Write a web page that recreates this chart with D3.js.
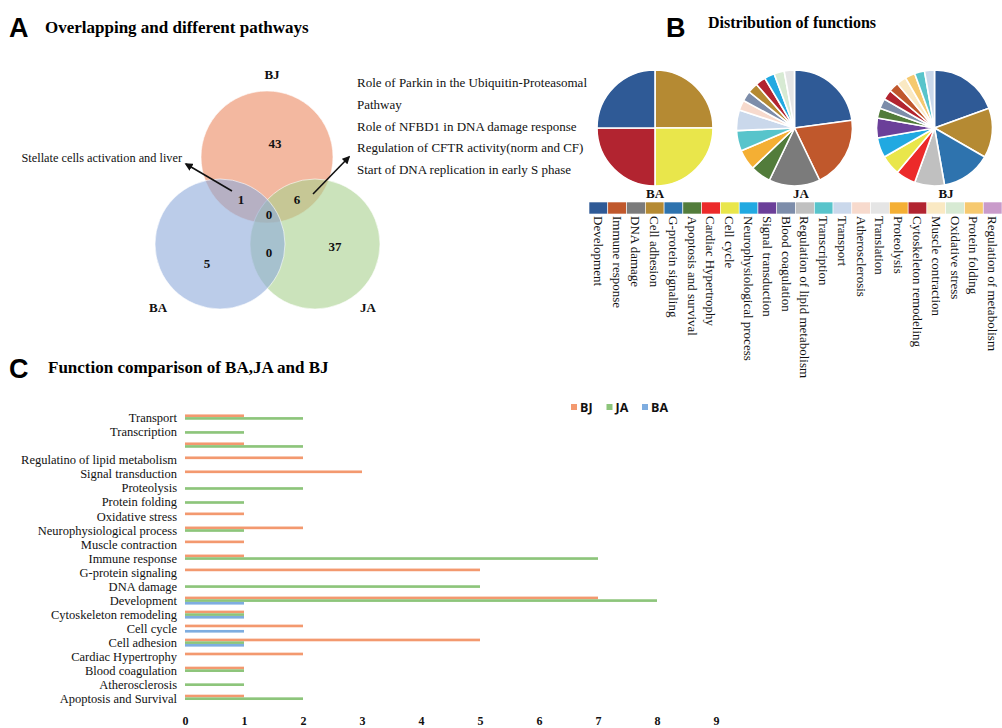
<!DOCTYPE html>
<html>
<head>
<meta charset="utf-8">
<script src="https://cdn.jsdelivr.net/npm/d3@7"></script>
<style>
  body { margin: 0; background: #fff; }
  svg { display: block; }
  text { font-family: "Liberation Serif", "Times New Roman", serif; fill: #111; }
  .letter { font-family: "Liberation Sans", Arial, sans-serif; font-weight: bold; fill: #000; }
  .title { font-weight: bold; fill: #000; }
</style>
</head>
<body>
<svg id="chart" width="1002" height="728"></svg>
<script>
// ---------- data ----------
// A: venn
const vennSets = ['BJ', 'JA', 'BA'];
const vennRegions = ['BJ', 'BA', 'JA', 'BJ&BA', 'BJ&JA', 'BJ&BA&JA', 'BA&JA'];
const vennCounts = [43, 5, 37, 1, 6, 0, 0];
const noteLeft = ['Stellate cells activation and liver'];
const noteRight = ['Role of Parkin in the Ubiquitin-Proteasomal', 'Pathway',
  'Role of NFBD1 in DNA damage response', 'Regulation of CFTR activity(norm and CF)',
  'Start of DNA replication in early S phase'];

// B: pies + legend
const functionNames = ['Development', 'Immune response', 'DNA damage', 'Cell adhesion',
  'G-protein signaling', 'Apoptosis and survival', 'Cardiac Hypertrophy', 'Cell cycle',
  'Neurophysiological process', 'Signal transduction', 'Blood coagulation',
  'Regulation of lipid metabolism', 'Transcription', 'Transport', 'Atherosclerosis',
  'Translation', 'Proteolysis', 'Cytoskeleton remodeling', 'Muscle contraction',
  'Oxidative stress', 'Protein folding', 'Regulation of metabolism'];
const functionColors = ['#2f5a96', '#c0582c', '#7b7b7b', '#b58a33', '#2e73ae', '#527c3b',
  '#ec2a2a', '#e9e64b', '#21a9e1', '#6b3f99', '#7d8daa', '#c0c0c0', '#58c4cb', '#cad8eb',
  '#f7dacd', '#e5e5e5', '#f4af34', '#b22430', '#fae9c3', '#d7ead3', '#f6c96f', '#c99bca'];

const pieNames = ['BA', 'JA', 'BJ'];
const baSlices = ['Cell adhesion', 'Cell cycle', 'Cytoskeleton remodeling', 'Development'];
const baValues = [1, 1, 1, 1];
const jaSlices = ['Development', 'Immune response', 'DNA damage', 'Apoptosis and survival',
  'Proteolysis', 'Transcription', 'Transport', 'Atherosclerosis', 'Blood coagulation',
  'Cell adhesion', 'Cytoskeleton remodeling', 'Neurophysiological process',
  'Oxidative stress', 'Translation'];
const jaValues = [8, 7, 5, 2, 2, 2, 2, 1, 1, 1, 1, 1, 1, 1];
const bjSlices = ['Development', 'Cell adhesion', 'G-protein signaling',
  'Regulation of lipid metabolism', 'Cardiac Hypertrophy', 'Cell cycle',
  'Neurophysiological process', 'Signal transduction', 'Apoptosis and survival',
  'Blood coagulation', 'Cytoskeleton remodeling', 'Immune response', 'Muscle contraction',
  'Protein folding', 'Transcription', 'Transport'];
const bjValues = [7, 5, 5, 3, 2, 2, 2, 2, 1, 1, 1, 1, 1, 1, 1, 1];

// C: grouped bars (top to bottom)
const barCategories = ['Transport', 'Transcription', 'Translation',
  'Regulatino of lipid metabolism', 'Signal transduction', 'Proteolysis', 'Protein folding',
  'Oxidative stress', 'Neurophysiological process', 'Muscle contraction', 'Immune response',
  'G-protein signaling', 'DNA damage', 'Development', 'Cytoskeleton remodeling', 'Cell cycle',
  'Cell adhesion', 'Cardiac Hypertrophy', 'Blood coagulation', 'Atherosclerosis',
  'Apoptosis and Survival'];
const hiddenTicks = ['Translation'];
const barSeries = ['BJ', 'JA', 'BA'];
const barBJ = [1, 0, 1, 2, 3, 0, 0, 1, 2, 1, 1, 5, 0, 7, 1, 2, 5, 2, 1, 0, 1];
const barJA = [2, 1, 2, 0, 0, 2, 1, 0, 1, 0, 7, 0, 5, 8, 1, 0, 1, 0, 1, 1, 2];
const barBA = [0, 0, 0, 0, 0, 0, 0, 0, 0, 0, 0, 0, 0, 1, 1, 1, 1, 0, 0, 0, 0];
const xTicks = [0, 1, 2, 3, 4, 5, 6, 7, 8, 9];

// ---------- setup ----------
const svg = d3.select('#chart');
const colorOf = d3.scaleOrdinal().domain(functionNames).range(functionColors);

function panelHead(letter, lx, ly, title, tx, ty, size) {
  svg.append('text').attr('class', 'letter').attr('x', lx).attr('y', ly)
    .attr('font-size', 27).text(letter);
  svg.append('text').attr('class', 'title').attr('x', tx).attr('y', ty)
    .attr('font-size', size).text(title);
}

// ---------- A: venn ----------
panelHead('A', 9, 37, 'Overlapping and different pathways', 45, 33, 17);

const venn = svg.append('g');
const circles = {
  BJ: { cx: 267, cy: 157, r: 66, fill: '#ee9a78', op: 0.7, lx: 272, ly: 79 },
  JA: { cx: 315, cy: 244, r: 65, fill: '#a9d18e', op: 0.6, lx: 368, ly: 312 },
  BA: { cx: 220, cy: 244, r: 65, fill: '#8eaadb', op: 0.6, lx: 158, ly: 312 }
};
venn.selectAll('circle').data(vennSets).enter().append('circle')
  .attr('cx', d => circles[d].cx).attr('cy', d => circles[d].cy).attr('r', d => circles[d].r)
  .attr('fill', d => circles[d].fill).attr('fill-opacity', d => circles[d].op)
  .attr('stroke', '#fff').attr('stroke-opacity', 0.6).attr('stroke-width', 1);
venn.selectAll('.setlab').data(vennSets).enter().append('text')
  .attr('x', d => circles[d].lx).attr('y', d => circles[d].ly)
  .attr('text-anchor', 'middle').attr('font-size', 13).attr('font-weight', 'bold')
  .text(d => d);

const regionPos = {
  'BJ': [275, 148], 'BA': [207, 268], 'JA': [335, 251], 'BJ&BA': [241, 204],
  'BJ&JA': [297, 204], 'BJ&BA&JA': [269, 219], 'BA&JA': [269, 257]
};
venn.selectAll('.count').data(vennRegions).enter().append('text')
  .attr('x', d => regionPos[d][0]).attr('y', d => regionPos[d][1])
  .attr('text-anchor', 'middle').attr('font-size', 13).attr('font-weight', 'bold')
  .text((d, i) => vennCounts[i]);

svg.append('defs').append('marker').attr('id', 'arrow')
  .attr('viewBox', '0 0 10 10').attr('refX', 8).attr('refY', 5)
  .attr('markerWidth', 5).attr('markerHeight', 5).attr('orient', 'auto')
  .append('path').attr('d', 'M0,0L10,5L0,10z').attr('fill', '#111');
venn.append('line').attr('x1', 232).attr('y1', 191).attr('x2', 186).attr('y2', 164)
  .attr('stroke', '#111').attr('stroke-width', 1.6).attr('marker-end', 'url(#arrow)');
venn.append('line').attr('x1', 313).attr('y1', 194).attr('x2', 349).attr('y2', 157)
  .attr('stroke', '#111').attr('stroke-width', 1.6).attr('marker-end', 'url(#arrow)');

venn.selectAll('.noteL').data(noteLeft).enter().append('text')
  .attr('x', 182).attr('y', 162).attr('text-anchor', 'end').attr('font-size', 12.3)
  .text(d => d);
venn.selectAll('.noteR').data(noteRight).enter().append('text')
  .attr('x', 357).attr('y', (d, i) => 87 + i * 21.8).attr('font-size', 13)
  .text(d => d);

// ---------- B: pies ----------
panelHead('B', 666, 37, 'Distribution of functions', 708, 28, 16);

const pieData = [
  { name: 'BA', slices: baSlices, values: baValues, cx: 655, lx: 655 },
  { name: 'JA', slices: jaSlices, values: jaValues, cx: 794.5, lx: 801 },
  { name: 'BJ', slices: bjSlices, values: bjValues, cx: 934.5, lx: 946 }
];
const pie = d3.pie().sort(null).value(d => d.v);
const arc = d3.arc().innerRadius(0).outerRadius(58);

pieData.forEach(p => {
  const g = svg.append('g').attr('transform', `translate(${p.cx},128)`);
  const rows = p.slices.map((s, i) => ({ s, v: p.values[i] }));
  g.selectAll('path').data(pie(rows)).enter().append('path')
    .attr('d', arc).attr('fill', d => colorOf(d.data.s))
    .attr('stroke', '#fff').attr('stroke-width', 1.6).attr('stroke-linejoin', 'round');
  svg.append('text').attr('x', p.lx).attr('y', 198).attr('text-anchor', 'middle')
    .attr('font-size', 13).attr('font-weight', 'bold').text(p.name);
});

// function legend strip
const legX = d3.scaleBand().domain(functionNames).range([589, 1002]);
const leg = svg.append('g');
leg.selectAll('rect').data(functionNames).enter().append('rect')
  .attr('x', d => legX(d)).attr('y', 202).attr('width', legX.bandwidth()).attr('height', 12)
  .attr('fill', d => colorOf(d)).attr('stroke', '#fff').attr('stroke-width', 0.6);
leg.selectAll('text').data(functionNames).enter().append('text')
  .attr('transform', d => `translate(${legX(d) + legX.bandwidth() / 2},216) rotate(90)`)
  .attr('dy', '0.35em').attr('font-size', 13).attr('fill', '#222')
  .text(d => d);

// ---------- C: bars ----------
panelHead('C', 9, 378, 'Function comparison of BA,JA and BJ', 48, 373, 17);

const x = d3.scaleLinear().domain([0, 9]).range([185, 716]);
const y = d3.scaleBand().domain(barCategories).range([408.4, 708.7]).padding(0.43);
const ySub = d3.scaleBand().domain(barSeries).range([0, y.bandwidth()]);
const barColor = d3.scaleOrdinal().domain(barSeries).range(['#f3996f', '#8dc57b', '#7eade0']);
const seriesValues = { BJ: barBJ, JA: barJA, BA: barBA };

const bars = svg.append('g');
barSeries.forEach(s => {
  bars.selectAll('.b' + s).data(barCategories.map((c, i) => ({ c, v: seriesValues[s][i] })))
    .enter().filter(d => d.v > 0).append('rect')
    .attr('x', x(0)).attr('y', d => y(d.c) + ySub(s))
    .attr('width', d => x(d.v) - x(0)).attr('height', ySub.bandwidth())
    .attr('fill', barColor(s));
});

const yAxis = svg.append('g').attr('transform', 'translate(185,0)')
  .call(d3.axisLeft(y).tickSize(0).tickPadding(8)
    .tickFormat(d => hiddenTicks.includes(d) ? '' : d));
yAxis.select('.domain').remove();
yAxis.selectAll('text').attr('font-size', 12.5).attr('fill', '#111')
  .style('font-family', '"Liberation Serif", "Times New Roman", serif');

const xAxis = svg.append('g').attr('transform', 'translate(0,716)')
  .call(d3.axisBottom(x).tickValues(xTicks).tickSize(0).tickPadding(0).tickFormat(d3.format('d')));
xAxis.select('.domain').remove();
xAxis.selectAll('text').attr('font-size', 12).attr('font-weight', 'bold').attr('fill', '#111')
  .style('font-family', '"Liberation Serif", "Times New Roman", serif');

// series legend
const sLeg = svg.append('g').attr('transform', 'translate(571,407)');
const sLegX = d3.scalePoint().domain(barSeries).range([0, 71]);
sLeg.selectAll('rect').data(barSeries).enter().append('rect')
  .attr('x', d => sLegX(d)).attr('y', -3).attr('width', 6).attr('height', 6)
  .attr('fill', d => barColor(d));
sLeg.selectAll('text').data(barSeries).enter().append('text')
  .attr('x', d => sLegX(d) + 9).attr('y', 0).attr('dy', '0.36em')
  .attr('font-size', 12.5).attr('font-weight', 'bold').attr('fill', '#404040')
  .style('font-family', '"Open Sans", "Liberation Sans", Arial, sans-serif')
  .text(d => d);
</script>
</body>
</html>
